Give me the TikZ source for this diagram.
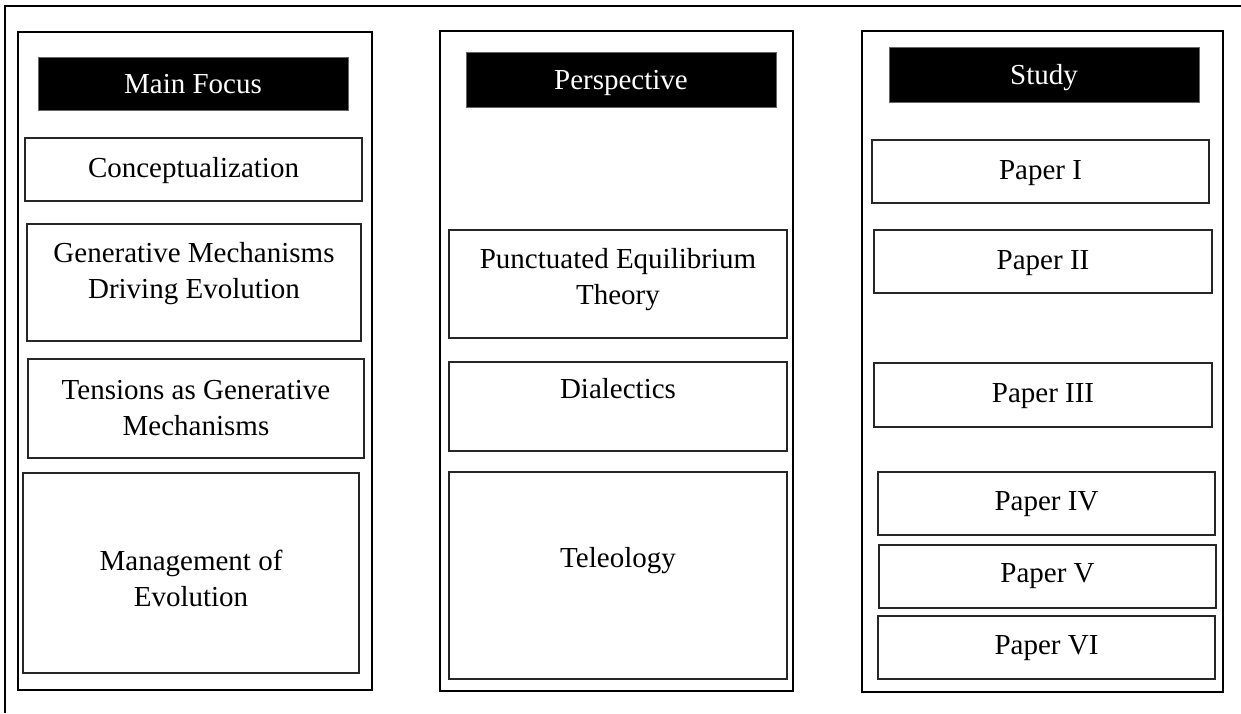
\documentclass[tikz,border=0pt]{standalone}
\usepackage{fontspec}
\setmainfont{Liberation Serif}
\usetikzlibrary{fit}
\tikzset{
  colframe/.style={draw=black, line width=2.4pt, inner sep=0pt},
  itembox/.style={draw=black!85, line width=1.1pt, inner sep=0pt},
  headbox/.style={fill=black, draw=black!60, line width=0.6pt, inner sep=0pt},
  lbl/.style={font=\fontsize{29}{36}\selectfont, align=center, anchor=base, inner sep=0pt},
  hlbl/.style={lbl, text=white},
  outerline/.style={draw=black, line width=2.2pt}
}
\begin{document}
\begin{tikzpicture}[x=1pt, y=-1pt]
\useasboundingbox (0,0) rectangle (1241,713);
% outer frame (top and left edges)
\coordinate (oTL) at (5,6);
\coordinate (oTR) at (1241,6);
\coordinate (oBL) at (5,713);
\draw[outerline] (oTR) -- (oTL) -- (oBL);
% column frames
\node[colframe, fit={(18,32)(372,690)}] (col1) {};
\node[colframe, fit={(440,31)(793,691)}] (col2) {};
\node[colframe, fit={(862,31)(1223,692)}] (col3) {};
% headers
\node[headbox, fit={(38,57)(348,110)}] (h1) {};
\node[headbox, fit={(466,52)(776,107)}] (h2) {};
\node[headbox, fit={(889,47)(1199,102)}] (h3) {};
\node[hlbl] (h1t) at (193,93) {Main Focus};
\node[hlbl] (h2t) at (621,89) {Perspective};
\node[hlbl] (h3t) at (1044,84) {Study};
% column 1
\node[itembox, fit={(25,138)(362,201)}] (a1) {};
\node[itembox, fit={(27,224)(361,341)}] (a2) {};
\node[itembox, fit={(28,359)(364,458)}] (a3) {};
\node[itembox, fit={(23,473)(359,673)}] (a4) {};
\node[lbl] (a1t) at (193.5,177) {Conceptualization};
\node[lbl] (a2t) at (194,298) {Generative Mechanisms\\Driving Evolution};
\node[lbl] (a3t) at (196,435) {Tensions as Generative\\Mechanisms};
\node[lbl] (a4t) at (191,606) {Management of\\Evolution};
% column 2
\node[itembox, fit={(449,230)(787,338)}] (b1) {};
\node[itembox, fit={(449,362)(787,451)}] (b2) {};
\node[itembox, fit={(449,472)(787,679)}] (b3) {};
\node[lbl] (b1t) at (618,304) {Punctuated Equilibrium\\Theory};
\node[lbl] (b2t) at (618,398) {Dialectics};
\node[lbl] (b3t) at (618,567) {Teleology};
% column 3
\node[itembox, fit={(872,140)(1209,203)}] (p1) {};
\node[itembox, fit={(874,230)(1212,293)}] (p2) {};
\node[itembox, fit={(874,363)(1212,427)}] (p3) {};
\node[itembox, fit={(878,472)(1215,535)}] (p4) {};
\node[itembox, fit={(879,545)(1216,608)}] (p5) {};
\node[itembox, fit={(878,616)(1215,679)}] (p6) {};
\node[lbl] (p1t) at (1040.5,179) {Paper I};
\node[lbl] (p2t) at (1043,269) {Paper II};
\node[lbl] (p3t) at (1043,402) {Paper III};
\node[lbl] (p4t) at (1046.5,510) {Paper IV};
\node[lbl] (p5t) at (1047.5,582) {Paper V};
\node[lbl] (p6t) at (1046.5,654) {Paper VI};
\end{tikzpicture}
\end{document}
